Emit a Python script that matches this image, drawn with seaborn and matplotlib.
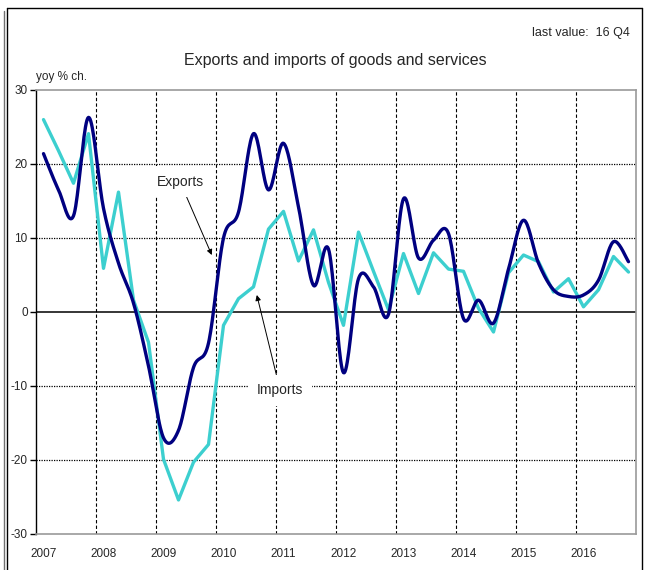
import numpy as np
import pandas as pd
import matplotlib
matplotlib.use("Agg")
import matplotlib.pyplot as plt
import seaborn as sns
from matplotlib.lines import Line2D

# ---------------- data (yoy % change, quarterly 2007 Q1 - 2016 Q4) ----------------
years = list(range(2007, 2017))
quarters = [f"{y} Q{q}" for y in years for q in range(1, 5)]
exports = [21.4, 16.5, 13.0, 26.3, 14.0, 6.6, 1.2, -7.3, -17.0, -16.0,
           -7.5, -4.2, 10.0, 13.5, 24.1, 16.5, 22.8, 14.2, 3.6, 8.5,
           -8.2, 4.5, 3.4, -0.3, 15.3, 7.3, 9.7, 10.6, -0.9, 1.6,
           -1.5, 5.8, 12.4, 6.6, 3.0, 2.1, 2.3, 4.3, 9.5, 6.8]
imports = [26.0, 21.8, 17.4, 24.1, 5.9, 16.2, 1.6, -4.1, -19.9, -25.4,
           -20.3, -17.9, -1.8, 1.8, 3.4, 11.2, 13.6, 6.9, 11.1, 4.0,
           -1.8, 10.8, 5.5, 0.3, 7.9, 2.5, 8.0, 5.8, 5.5, 0.5,
           -2.7, 5.3, 7.7, 6.8, 2.7, 4.5, 0.7, 3.0, 7.5, 5.4]
ytick_values = [-30, -20, -10, 0, 10, 20, 30]

# quarter positions on a continuous time axis (mid-quarter)
xpos = np.array([int(q[:4]) + (int(q[-1]) - 0.5) / 4 for q in quarters])

df = pd.DataFrame({"quarter": quarters, "t": xpos,
                   "Exports": exports, "Imports": imports})


def smooth_curve(x, y, n=20):
    """Catmull-Rom rendering of a line through the points (Excel 'smoothed line')."""
    x = np.asarray(x, float)
    y = np.asarray(y, float)
    px = np.concatenate([[x[0]], x, [x[-1]]])
    py = np.concatenate([[y[0]], y, [y[-1]]])
    xs, ys = [], []
    t = np.linspace(0, 1, n, endpoint=False)
    for i in range(1, len(px) - 2):
        for arr, out in ((px, xs), (py, ys)):
            p0, p1, p2, p3 = arr[i - 1], arr[i], arr[i + 1], arr[i + 2]
            out.extend(0.5 * ((2 * p1) + (-p0 + p2) * t
                              + (2 * p0 - 5 * p1 + 4 * p2 - p3) * t ** 2
                              + (-p0 + 3 * p1 - 3 * p2 + p3) * t ** 3))
    xs.append(x[-1])
    ys.append(y[-1])
    return np.array(xs), np.array(ys)


sx, sy = smooth_curve(df["t"], df["Exports"])

# ---------------- figure ----------------
sns.set_theme(style="white")
plt.rcParams["font.family"] = ["Liberation Sans", "DejaVu Sans"]
plt.rcParams["axes.unicode_minus"] = False

W, H = 648, 570
fig = plt.figure(figsize=(W / 100, H / 100), dpi=100)
ax = fig.add_axes([36 / W, 1 - 534 / H, 600 / W, 444 / H])

ax.set_xlim(2007, 2017)
ax.set_ylim(-30, 30)

# grid
for yr in range(2008, 2017):
    ax.axvline(yr, color="black", lw=0.8, ls=(0, (3, 2)), zorder=1)
for v in (-20, -10, 10, 20):
    ax.axhline(v, color="black", lw=0.9, ls=(0, (1, 1)), zorder=1)
ax.axhline(0, color="black", lw=1.1, zorder=1)

sns.lineplot(x=df["t"], y=df["Imports"], ax=ax, color="#3CCFCF", lw=2.4,
             estimator=None, zorder=3)
sns.lineplot(x=sx, y=sy, ax=ax, color="#000080", lw=2.4, estimator=None,
             zorder=4)

# axes styling
ax.set_xlabel("")
ax.set_ylabel("")
ax.set_yticks(ytick_values)
ax.set_yticklabels([str(v) for v in ytick_values], fontsize=8.5)
ax.set_xticks(np.array(years) + 0.12)
ax.set_xticklabels([str(y) for y in years], fontsize=8.5)
ax.tick_params(axis="y", left=True, length=4, width=1, direction="out",
               color="black", pad=2)
ax.tick_params(axis="x", bottom=False, length=0, pad=10)
ax.spines["left"].set_color("black")
ax.spines["left"].set_linewidth(1.0)
for s in ("bottom", "right", "top"):
    ax.spines[s].set_color("#9a9a9a")
    ax.spines[s].set_linewidth(1.2)
ax.grid(False)
ax.set_facecolor("white")

# annotations
ax.annotate("Exports", xy=(2009.93, 7.7), xytext=(2009.4, 17.6),
            ha="center", va="center", fontsize=10, zorder=6,
            bbox=dict(fc="white", ec="none", pad=6),
            arrowprops=dict(arrowstyle="-|>", color="black", lw=0.7,
                            mutation_scale=8, shrinkA=0, shrinkB=0))
ax.annotate("Imports", xy=(2010.68, 2.3), xytext=(2011.07, -10.6),
            ha="center", va="center", fontsize=10, zorder=6,
            bbox=dict(fc="white", ec="none", pad=6),
            arrowprops=dict(arrowstyle="-|>", color="black", lw=0.7,
                            mutation_scale=8, shrinkA=0, shrinkB=0))

# texts
fig.text(335 / W, 1 - 61 / H, "Exports and imports of goods and services",
         ha="center", va="center", fontsize=11.5)
fig.text(630 / W, 1 - 33 / H, "last value:  16 Q4", ha="right",
         va="center", fontsize=9)
fig.text(36 / W, 1 - 77 / H, "yoy % ch.", ha="left", va="center", fontsize=8.5)

# outer frame
tf = fig.transFigure
fig.add_artist(Line2D([7 / W, 7 / W], [1 - 8 / H, 0], color="black", lw=1, transform=tf))
fig.add_artist(Line2D([7 / W, 642 / W], [1 - 8 / H, 1 - 8 / H], color="black", lw=1, transform=tf))
fig.add_artist(Line2D([642 / W, 642 / W], [1 - 8 / H, 0], color="black", lw=1, transform=tf))
fig.add_artist(Line2D([4 / W, 4 / W], [1 - 11 / H, 0], color="#707070", lw=1, transform=tf))

fig.savefig("out.png", dpi=100)
